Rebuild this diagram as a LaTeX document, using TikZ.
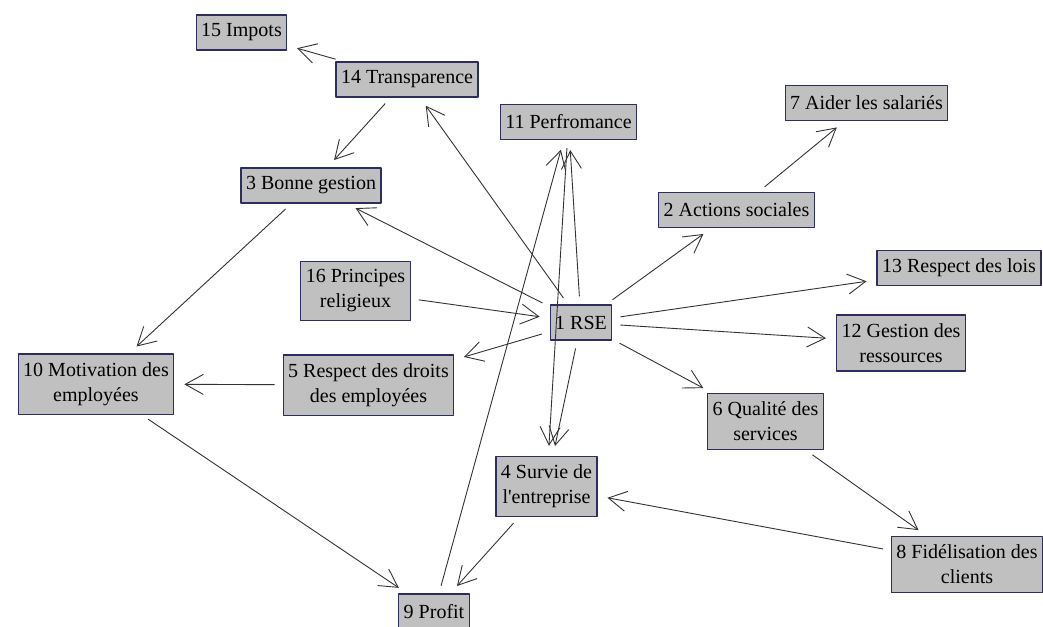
\documentclass[tikz,border=0pt]{standalone}
\usepackage{fontspec}
\setmainfont{Liberation Serif}[Ligatures=TeXOff]
\usetikzlibrary{arrows.meta}
\definecolor{boxfill}{RGB}{192,192,192}
\definecolor{boxline}{RGB}{45,45,95}
\begin{document}
\begin{tikzpicture}[x=1pt,y=-1pt,line join=round,
    box/.style={draw=boxline,line width=1.2pt,fill=boxfill,inner xsep=5pt,
      inner ysep=8.5pt,minimum height=35pt,align=center,
      font=\fontsize{20}{25}\selectfont},
    link/.style={draw=black!80,line width=0.9pt,
      -{Straight Barb[length=18pt,width=20pt]},shorten <=8pt,shorten >=10pt}]
  \useasboundingbox (0,0) rectangle (1043,626);
  \fill[white] (0,0) rectangle (1043,626);
  % the concepts
  \node[box] (n15) at (241.5,32.5) {15 Impots};
  \node[box] (n14) at (407,79.5) {14 Transparence};
  \node[box] (n11) at (568.5,122) {11 Perfromance};
  \node[box] (n7) at (866.5,103) {7 Aider les salariés};
  \node[box] (n3) at (311,185.5) {3 Bonne gestion};
  \node[box] (n2) at (736.5,210) {2 Actions sociales};
  \node[box] (n16) at (355.5,291) {16 Principes\\religieux};
  \node[box] (n13) at (959,268) {13 Respect des lois};
  \node[box] (n1) at (581,322.5) {1 RSE};
  \node[box] (n12) at (901,343) {12 Gestion des\\ressources};
  \node[box] (n10) at (96,384) {10 Motivation des\\employées};
  \node[box] (n5) at (368.5,385) {5 Respect des droits\\des employées};
  \node[box] (n6) at (765.5,421.5) {6 Qualité des\\services};
  \node[box] (n4) at (546.5,486.5) {4 Survie de\\l'entreprise};
  \node[box] (n8) at (967,564.5) {8 Fidélisation des\\clients};
  \node[box] (n9) at (434,611.5) {9 Profit};
  % the links
  \draw[link] (n14) -- (n15);
  \draw[link] (n14) -- (n3);
  \draw[link] (n1) -- (n14);
  \draw[link] (n1) -- (n3);
  \draw[link] (n3) -- (n10);
  \draw[link] (n16) -- (n1);
  \draw[link] (n1) -- (n5);
  \draw[link] (n5) -- (n10);
  \draw[link] (n10) -- (n9);
  \draw[link] (n4) -- (n9);
  \draw[link] (n9) -- (n11);
  \draw[link] (n1) -- (n11);
  \draw[link] (n11) -- (n4);
  \draw[link] (n1) -- (n4);
  \draw[link] (n1) -- (n2);
  \draw[link] (n2) -- (n7);
  \draw[link] (n1) -- (n13);
  \draw[link] (n1) -- (n12);
  \draw[link] (n1) -- (n6);
  \draw[link] (n6) -- (n8);
  \draw[link] (n8) -- (n4);
\end{tikzpicture}
\end{document}
